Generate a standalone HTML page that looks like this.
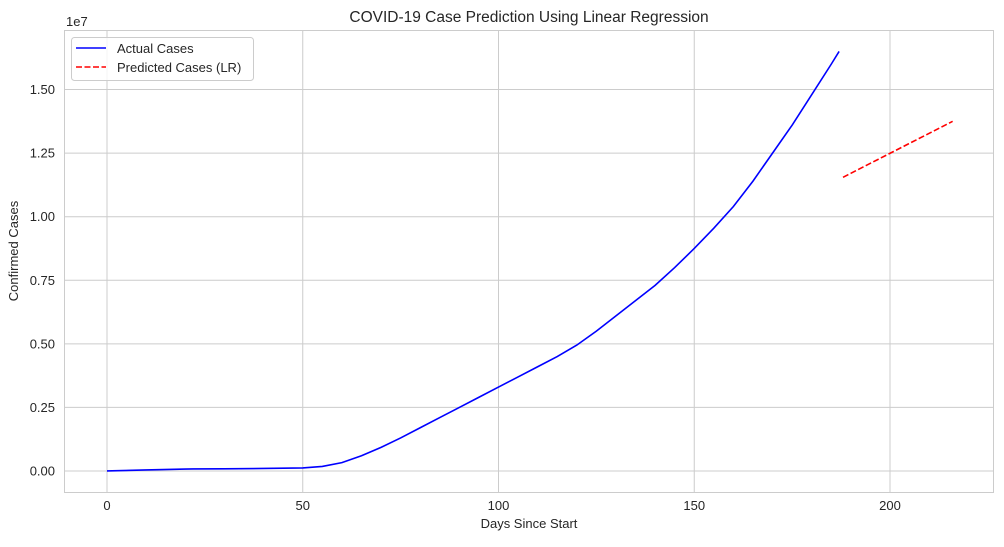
<!DOCTYPE html>
<html><head><meta charset="utf-8"><style>
body{margin:0;background:#fff;}
svg text{font-family:"Liberation Sans","DejaVu Sans",sans-serif;fill:#262626;}
</style></head><body>
<svg id="chart" width="1004" height="542" xmlns="http://www.w3.org/2000/svg">
<rect x="0" y="0" width="1004" height="542" fill="#fff"/>
<g id="grid"></g>
<rect x="64.5" y="30.5" width="929" height="462" fill="none" stroke="#cccccc" stroke-width="1"/>
<g id="series"></g>
<g id="ticks"></g>
<text x="529" y="22" text-anchor="middle" font-size="15.5">COVID-19 Case Prediction Using Linear Regression</text>
<text x="529" y="528" text-anchor="middle" font-size="13">Days Since Start</text>
<text transform="translate(18,251) rotate(-90)" text-anchor="middle" font-size="13">Confirmed Cases</text>
<text x="66" y="26" font-size="13">1e7</text>
<g>
<rect x="71.5" y="37.5" width="182" height="43" rx="3" fill="#fff" fill-opacity="0.8" stroke="#cccccc"/>
<line x1="76" y1="48" x2="106" y2="48" stroke="blue" stroke-width="1.6"/>
<text x="117" y="53" font-size="13">Actual Cases</text>
<line x1="76" y1="67" x2="106" y2="67" stroke="red" stroke-width="1.6" stroke-dasharray="6,2.5"/>
<text x="117" y="72" font-size="13">Predicted Cases (LR)</text>
</g>
</svg>
<script>
const actualDays=[0,10,20,22,30,40,50,55,60,65,70,75,80,85,90,95,100,105,110,115,120,125,130,135,140,145,150,155,160,165,170,175,180,185,187];
const actualCases=[0.0006,0.04,0.078,0.08,0.085,0.1,0.12,0.18,0.33,0.6,0.93,1.3,1.7,2.1,2.5,2.9,3.3,3.7,4.1,4.5,4.95,5.5,6.1,6.7,7.3,8.0,8.75,9.55,10.4,11.4,12.5,13.6,14.8,16.0,16.5];
const predDays=[188,216];
const predCases=[11.55,13.75];
const xTicks=[0,50,100,150,200];
const yTicks=[0,2.5,5,7.5,10,12.5,15];
const yTickLabels=["0.00","0.25","0.50","0.75","1.00","1.25","1.50"];
const X=d=>107+d*3.915;
const Y=v=>471-v*25.43;
const NS="http://www.w3.org/2000/svg";
const grid=document.getElementById('grid'),ticks=document.getElementById('ticks'),ser=document.getElementById('series');
function mk(tag,attrs,parent){const e=document.createElementNS(NS,tag);for(const k in attrs)e.setAttribute(k,attrs[k]);parent.appendChild(e);return e;}
xTicks.forEach(t=>{
 const g=mk('line',{x1:X(t),x2:X(t),y1:30,y2:492,stroke:'#cccccc'},grid);
 
 
 const l=mk('text',{x:X(t),y:510,'text-anchor':'middle','font-size':'13'},ticks);
 l.textContent=t;
 
 
});
yTicks.forEach((t,i)=>{
 const g=mk('line',{x1:64,x2:994,y1:Y(t),y2:Y(t),stroke:'#cccccc'},grid);
 
 
 const l=mk('text',{x:55,y:Y(t)+4.5,'text-anchor':'end','font-size':'13'},ticks);
 l.textContent=yTickLabels[i];
 
 
});
const a=mk('polyline',{points:actualDays.map((d,i)=>X(d)+','+Y(actualCases[i])).join(' '),fill:'none',stroke:'blue','stroke-width':1.6},ser);


const p=mk('polyline',{points:predDays.map((d,i)=>X(d)+','+Y(predCases[i])).join(' '),fill:'none',stroke:'red','stroke-width':1.6,'stroke-dasharray':'6,2.5'},ser);


</script>
</body></html>
